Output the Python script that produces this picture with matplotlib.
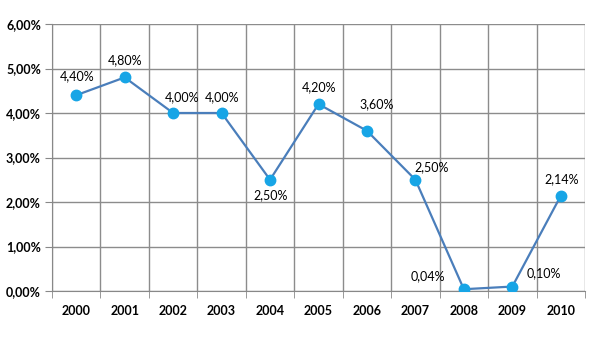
import matplotlib.pyplot as plt
import numpy as np

years = ['2000', '2001', '2002', '2003', '2004', '2005', '2006', '2007', '2008', '2009', '2010']
rates = [4.40, 4.80, 4.00, 4.00, 2.50, 4.20, 3.60, 2.50, 0.04, 0.10, 2.14]
# label offsets in pixels (dx, dy) from each point
offsets = [(1, 19), (0, 17), (9, 16), (0, 16), (1, -15), (1, 17), (10, 27), (16, 13),
           (-36, 13), (31, 13), (1, 17)]

plt.rcParams['font.family'] = ['Lato', 'DejaVu Sans']

fig = plt.figure(figsize=(5.97, 3.38), dpi=100)
ax = fig.add_axes([52 / 597, 1 - 291 / 338, 533 / 597, 267 / 338])

x = np.arange(len(years))
ax.plot(x, rates, color='#4A7EBB', lw=1.6, marker='o', ms=7.5,
        mfc='#17A5E6', mec='#17A5E6', zorder=3)

for xi, v, (dx, dy) in zip(x, rates, offsets):
    ax.annotate(f'{v:.2f}%'.replace('.', ','), (xi, v), xytext=(dx, dy),
                textcoords='offset pixels', ha='center', va='center',
                fontsize=9, color='black')

ax.set_xlim(-0.5, len(years) - 0.5)
ax.set_ylim(0, 6)
ax.set_yticks(np.arange(0, 7, 1))
ax.set_yticklabels([f'{v:.2f}%'.replace('.', ',') for v in range(7)],
                   fontweight='bold', fontsize=9)
ax.set_xticks(x)
ax.set_xticklabels(years, fontweight='bold', fontsize=9)
ax.set_xticks(np.arange(-0.5, len(years)), minor=True)

ax.tick_params(axis='x', which='major', length=0, pad=10)
ax.tick_params(axis='x', which='minor', length=5, color='#888888')
ax.tick_params(axis='y', length=5, color='#888888', pad=3)

ax.grid(axis='y', color='#8c8c8c', lw=1)
ax.grid(axis='x', which='minor', color='#8c8c8c', lw=1)
ax.set_axisbelow(True)
for s in ['top', 'right']:
    ax.spines[s].set_visible(False)
for s in ['left', 'bottom']:
    ax.spines[s].set_color('#888888')

fig.savefig('out.png', dpi=100)
